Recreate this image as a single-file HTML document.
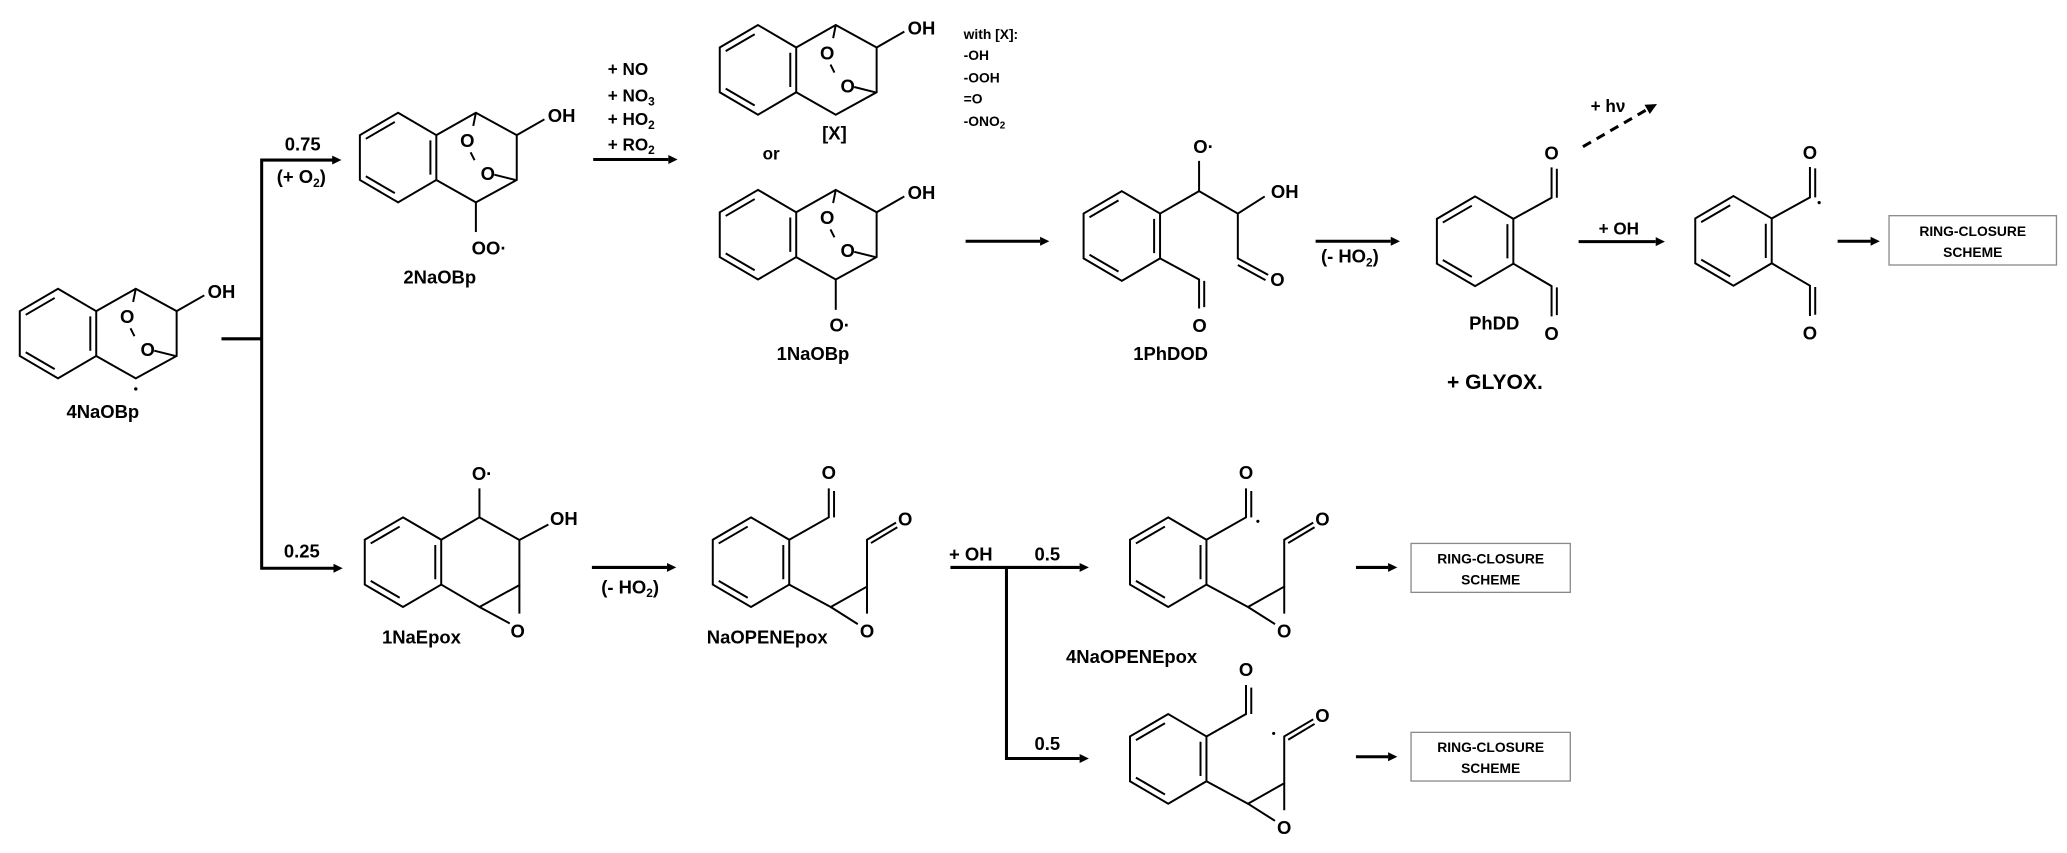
<!DOCTYPE html>
<html><head><meta charset="utf-8"><style>
html,body{margin:0;padding:0;background:#fff;}
svg{display:block;}
text{font-family:"Liberation Sans",sans-serif;font-weight:bold;fill:#000;}
</style></head><body>
<svg width="2067" height="853" viewBox="0 0 1568 647" preserveAspectRatio="none" xmlns="http://www.w3.org/2000/svg">
<defs>
<g id="bz" fill="none" stroke="#000" stroke-width="1.5">
<path d="M0,0 L29,17 L29,51 L0,68 L-29,51 L-29,17 Z"/>
<path d="M-24.5,19.8 L-2.5,7 M-24.5,48.2 L-2.5,61 M24.5,21 L24.5,47"/>
</g>
<g id="bic">
<use href="#bz"/>
<g fill="none" stroke="#000" stroke-width="1.5">
<path d="M29,17 L59,0 L90,17 L90,51 L59,68 L29,51"/>
<path d="M59,0 L57,10 M55,30 L58,36 M73,47 L89,51"/>
</g>
<text x="52.5" y="26" font-size="14" text-anchor="middle">O</text>
<text x="68" y="51" font-size="14" text-anchor="middle">O</text>
<path d="M90,17 L111,5" stroke="#000" stroke-width="1.5"/>
<text x="124" y="7" font-size="14" text-anchor="middle">OH</text>
</g>
<g id="epx">
<use href="#bz"/>
<g fill="none" stroke="#000" stroke-width="1.5">
<path d="M29,17 L59,0 L59,-22 M63,0 L63,-20"/>
<path d="M29,51 L60.5,68 L88,52.5 L88,17 L110,4 M91,19.5 L111,7.5"/>
<path d="M60.5,68 L81,81 M88,52.5 L88,73"/>
</g>
<text x="59" y="-29" font-size="14" text-anchor="middle">O</text>
<text x="117" y="6" font-size="14" text-anchor="middle">O</text>
<text x="88" y="91" font-size="14" text-anchor="middle">O</text>
</g>
<g id="phdd">
<use href="#bz"/>
<g fill="none" stroke="#000" stroke-width="1.5">
<path d="M29,17 L58,1 L58,-22 M62,1 L62,-21"/>
<path d="M29,51 L58,68 L58,91 M62,69 L62,90"/>
</g>
<text x="58" y="-28" font-size="14" text-anchor="middle">O</text>
<text x="58" y="109" font-size="14" text-anchor="middle">O</text>
</g>
</defs>

<!-- 4NaOBp -->
<g transform="translate(44,219)"><use href="#bic"/>
<circle cx="59" cy="76" r="1.3" fill="#000"/></g>
<text x="78" y="317" font-size="14" text-anchor="middle">4NaOBp</text>

<!-- junction arrows -->
<g stroke="#000" stroke-width="2.3" fill="none">
<path d="M168,257 L198.5,257 M198.5,120.3 L198.5,432 M197.4,121.4 L253,121.4 M197.4,431 L254,431"/>
</g>
<polygon points="259,121.4 252,118 252,124.8"/>
<polygon points="260,431 253,427.6 253,434.4"/>
<text x="229.6" y="114" font-size="14" text-anchor="middle">0.75</text>
<text x="228.6" y="139" font-size="14" text-anchor="middle">(+ O<tspan font-size="9" dy="3">2</tspan><tspan dy="-3">)</tspan></text>
<text x="229" y="423" font-size="14" text-anchor="middle">0.25</text>

<!-- 2NaOBp -->
<g transform="translate(302,85.5)"><use href="#bic"/>
<path d="M59,68 L59,90.5" stroke="#000" stroke-width="1.5"/>
<text x="69" y="107.5" font-size="14" text-anchor="middle">OO·</text></g>
<text x="333.6" y="215" font-size="14" text-anchor="middle">2NaOBp</text>

<!-- reagents -->
<text x="461" y="57" font-size="13">+ NO</text>
<text x="461" y="77" font-size="13">+ NO<tspan font-size="9" dy="3">3</tspan></text>
<text x="461" y="95" font-size="13">+ HO<tspan font-size="9" dy="3">2</tspan></text>
<text x="461" y="114" font-size="13">+ RO<tspan font-size="9" dy="3">2</tspan></text>
<path d="M450,121 L507,121" stroke="#000" stroke-width="2.3"/>
<polygon points="514,121 507,117.6 507,124.4"/>

<!-- [X] structure -->
<g transform="translate(575,19)"><use href="#bic"/>
<text x="58" y="87" font-size="14" text-anchor="middle">[X]</text></g>
<text x="585" y="121" font-size="13" text-anchor="middle">or</text>
<text x="731" y="29.5" font-size="10.5">with [X]:</text>
<text x="731" y="45.5" font-size="10.5">-OH</text>
<text x="731" y="62.5" font-size="10.5">-OOH</text>
<text x="731" y="78.5" font-size="10.5">=O</text>
<text x="731" y="95.5" font-size="10.5">-ONO<tspan font-size="7.5" dy="2">2</tspan></text>

<!-- 1NaOBp -->
<g transform="translate(575,144)"><use href="#bic"/>
<path d="M59,68 L59,91" stroke="#000" stroke-width="1.5"/>
<text x="62" y="107.5" font-size="14" text-anchor="middle">O·</text></g>
<text x="616.7" y="273" font-size="14" text-anchor="middle">1NaOBp</text>

<path d="M732.5,183 L789,183" stroke="#000" stroke-width="2.3"/>
<polygon points="796,183 789,179.6 789,186.4"/>

<!-- 1PhDOD -->
<g transform="translate(851,145)"><use href="#bz"/>
<g fill="none" stroke="#000" stroke-width="1.5">
<path d="M29,17 L58.6,0 L58.6,-23 M58.6,0 L88,17 L108.4,4 M88,17 L88,51 L111,63.5 M88,56 L109,67.5"/>
<path d="M29,51 L58.6,67 L58.6,89 M62.5,68 L62.5,88"/>
</g>
<text x="62" y="-29" font-size="14" text-anchor="middle">O·</text>
<text x="123.6" y="5" font-size="14" text-anchor="middle">OH</text>
<text x="118" y="72" font-size="14" text-anchor="middle">O</text>
<text x="59" y="107" font-size="14" text-anchor="middle">O</text></g>
<text x="888" y="273" font-size="14" text-anchor="middle">1PhDOD</text>

<path d="M998,183 L1055,183" stroke="#000" stroke-width="2.3"/>
<polygon points="1062,183 1055,179.6 1055,186.4"/>
<text x="1024" y="199" font-size="14" text-anchor="middle">(- HO<tspan font-size="9" dy="3">2</tspan><tspan dy="-3">)</tspan></text>

<!-- PhDD -->
<g transform="translate(1119,149)"><use href="#phdd"/></g>
<text x="1133.5" y="250" font-size="14" text-anchor="middle">PhDD</text>
<text x="1134" y="295" font-size="16" text-anchor="middle">+ GLYOX.</text>

<path d="M1200.8,111.3 L1252,81.6" stroke="#000" stroke-width="2.3" stroke-dasharray="7,5"/>
<polygon points="1257,78.9 1247.5,79.5 1251.5,86.5"/>
<text x="1219.8" y="85" font-size="13" text-anchor="middle">+ hν</text>

<path d="M1197.5,183.3 L1256,183.3" stroke="#000" stroke-width="2.3"/>
<polygon points="1263,183.3 1256,179.9 1256,186.7"/>
<text x="1228" y="178" font-size="13" text-anchor="middle">+ OH</text>

<g transform="translate(1315,148.7)"><use href="#phdd"/>
<circle cx="65" cy="5" r="1.2" fill="#000"/></g>

<path d="M1394,183 L1419,183" stroke="#000" stroke-width="2.3"/>
<polygon points="1426,183 1419,179.6 1419,186.4"/>
<rect x="1433" y="163.6" width="127" height="37.4" fill="#fff" stroke="#8a8a8a" stroke-width="1"/>
<text x="1496.5" y="179" font-size="10.5" text-anchor="middle">RING-CLOSURE</text>
<text x="1496.5" y="195" font-size="10.5" text-anchor="middle">SCHEME</text>

<!-- 1NaEpox -->
<g transform="translate(305.7,392.4)"><use href="#bz"/>
<g fill="none" stroke="#000" stroke-width="1.5">
<path d="M29,17 L58,0 L58,-22 M58,0 L88.3,17.2 L110.3,5.4 M88.3,17.2 L88.3,51.4 L58,68 L29,51"/>
<path d="M58,68 L81,80.5 M88.3,51.4 L88.3,73"/>
</g>
<text x="60" y="-28.5" font-size="14" text-anchor="middle">O·</text>
<text x="122" y="5.8" font-size="14" text-anchor="middle">OH</text>
<text x="87" y="91" font-size="14" text-anchor="middle">O</text></g>
<text x="319.7" y="488" font-size="14" text-anchor="middle">1NaEpox</text>

<path d="M449,430.4 L506,430.4" stroke="#000" stroke-width="2.3"/>
<polygon points="513,430.4 506,427 506,433.8"/>
<text x="478" y="450" font-size="14" text-anchor="middle">(- HO<tspan font-size="9" dy="3">2</tspan><tspan dy="-3">)</tspan></text>

<!-- NaOPENEpox -->
<g transform="translate(569.7,392.4)"><use href="#epx"/></g>
<text x="582" y="488" font-size="14" text-anchor="middle">NaOPENEpox</text>

<g stroke="#000" stroke-width="2.3" fill="none">
<path d="M721,430.4 L819,430.4 M763.5,429.3 L763.5,576.4 M762.4,575.3 L819,575.3"/>
</g>
<polygon points="826,430.4 819,427 819,433.8"/>
<polygon points="826,575.3 819,571.9 819,578.7"/>
<text x="736.4" y="425" font-size="14" text-anchor="middle">+ OH</text>
<text x="794.5" y="425" font-size="14" text-anchor="middle">0.5</text>
<text x="794.5" y="569" font-size="14" text-anchor="middle">0.5</text>

<!-- 4NaOPENEpox -->
<g transform="translate(886.2,392.4)"><use href="#epx"/>
<circle cx="68" cy="3" r="1.2" fill="#000"/></g>
<text x="858.4" y="503" font-size="14" text-anchor="middle">4NaOPENEpox</text>

<g transform="translate(886.2,541.6)"><use href="#epx"/>
<circle cx="80" cy="14.7" r="1.2" fill="#000"/></g>

<path d="M1028.6,430.4 L1053,430.4" stroke="#000" stroke-width="2.3"/>
<polygon points="1060,430.4 1053,427 1053,433.8"/>
<rect x="1070.4" y="412.2" width="120.8" height="37.1" fill="#fff" stroke="#8a8a8a" stroke-width="1"/>
<text x="1130.8" y="427.5" font-size="10.5" text-anchor="middle">RING-CLOSURE</text>
<text x="1130.8" y="443.5" font-size="10.5" text-anchor="middle">SCHEME</text>

<path d="M1028.6,574 L1053,574" stroke="#000" stroke-width="2.3"/>
<polygon points="1060,574 1053,570.6 1053,577.4"/>
<rect x="1070.4" y="555.5" width="120.8" height="36.9" fill="#fff" stroke="#8a8a8a" stroke-width="1"/>
<text x="1130.8" y="570.5" font-size="10.5" text-anchor="middle">RING-CLOSURE</text>
<text x="1130.8" y="586.5" font-size="10.5" text-anchor="middle">SCHEME</text>
</svg>
</body></html>
